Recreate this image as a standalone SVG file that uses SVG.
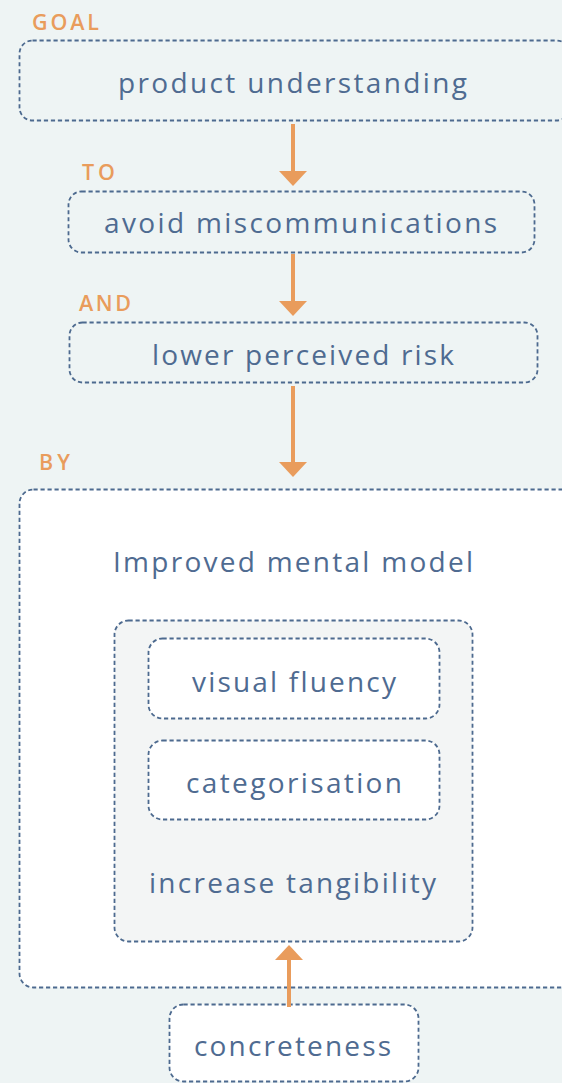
<svg xmlns="http://www.w3.org/2000/svg" width="562" height="1083" viewBox="0 0 562 1083">
<defs>
<marker id="ah" markerUnits="userSpaceOnUse" viewBox="0 0 15 28" refX="0" refY="14" markerWidth="15" markerHeight="28" orient="auto">
<path d="M0,0 L15,14 L0,28 z" fill="#e99c5c"/>
</marker>
<style>
.box{stroke:#4d6a8f;stroke-width:1.8;stroke-dasharray:4.2 2.8}
.t{font-family:"Open Sans",Lato,"DejaVu Sans",sans-serif;font-size:28px;font-weight:400;fill:#4f6b91;font-variant-ligatures:none}
.lab{font-family:"Open Sans","Liberation Sans",sans-serif;font-size:21.5px;font-weight:600;fill:#e99c5c}
.con{stroke:#e99c5c;stroke-width:4;fill:none}
</style>
</defs>
<rect x="0" y="0" width="562" height="1083" fill="#eef4f4"/>
<g id="goal">
<text class="lab" x="32" y="30" textLength="67" lengthAdjust="spacing">GOAL</text>
<rect class="box" x="19.5" y="40.5" width="550" height="80" rx="13" fill="#eef4f4"/>
<text class="t" x="118" y="93" textLength="349" lengthAdjust="spacing">product understanding</text>
</g>
<g id="to">
<text class="lab" x="82" y="180" textLength="33" lengthAdjust="spacing">TO</text>
<rect class="box" x="68.5" y="191.5" width="466" height="61" rx="13" fill="#eef4f4"/>
<text class="t" x="104" y="233" textLength="393" lengthAdjust="spacing">avoid miscommunications</text>
</g>
<g id="and">
<text class="lab" x="79" y="311" textLength="52" lengthAdjust="spacing">AND</text>
<rect class="box" x="69.5" y="322.5" width="468" height="60" rx="13" fill="#eef4f4"/>
<text class="t" x="152" y="365" textLength="302" lengthAdjust="spacing">lower perceived risk</text>
</g>
<g id="by">
<text class="lab" x="39" y="470" textLength="31" lengthAdjust="spacing">BY</text>
<rect class="box" x="19.5" y="489.5" width="560" height="498" rx="14" fill="#ffffff"/>
<text class="t" x="113" y="572" textLength="360" lengthAdjust="spacing">Improved mental model</text>
</g>
<g id="tangibility">
<rect class="box" x="114.5" y="620.5" width="358" height="321" rx="14" fill="#f3f5f5"/>
<text class="t" x="149" y="893" textLength="287" lengthAdjust="spacing">increase tangibility</text>
</g>
<g id="fluency">
<rect class="box" x="148.5" y="638.5" width="291" height="80" rx="14" fill="#ffffff"/>
<text class="t" x="192" y="692" textLength="204" lengthAdjust="spacing">visual fluency</text>
</g>
<g id="categorisation">
<rect class="box" x="148.5" y="740.5" width="291" height="79" rx="14" fill="#ffffff"/>
<text class="t" x="186" y="793" textLength="216" lengthAdjust="spacing">categorisation</text>
</g>
<g id="concreteness">
<rect class="box" x="169.5" y="1004.5" width="249" height="77" rx="14" fill="#ffffff"/>
<text class="t" x="194" y="1056" textLength="197" lengthAdjust="spacing">concreteness</text>
</g>
<g id="connectors">
<path class="con" d="M293,124 V171" marker-end="url(#ah)"/>
<path class="con" d="M293,254 V301" marker-end="url(#ah)"/>
<path class="con" d="M293,386 V462" marker-end="url(#ah)"/>
<path class="con" d="M289,1007 V960" marker-end="url(#ah)"/>
</g>
</svg>
